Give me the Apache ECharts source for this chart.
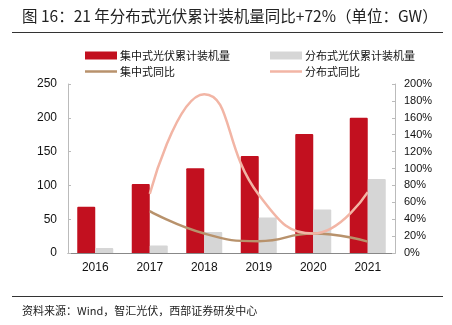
<!DOCTYPE html>
<html>
<head>
<meta charset="utf-8">
<script src="https://cdn.jsdelivr.net/npm/echarts@6/dist/echarts.min.js"></script>
<style>
html,body{margin:0;padding:0;background:#fff;}
#c{width:452px;height:325px;}
</style>
</head>
<body>
<div id="c"></div>
<script>
var years = ['2016','2017','2018','2019','2020','2021'];
var centralized = [68.5, 102, 125.5, 143.5, 176, 200];
var distributed = [7.5, 11, 31, 52.5, 64.5, 109.5];
var centralizedYoY = [null, 49.5, 23, 14, 23, 13.5];
var distributedYoY = [null, 70, 188, 69, 23, 72];
var leftTicks = [0, 50, 100, 150, 200, 250];
var rightTicks = [0, 20, 40, 60, 80, 100, 120, 140, 160, 180, 200];

var FONT = '"Liberation Sans", "Noto Sans CJK SC", sans-serif';
var CJK = '"Noto Sans CJK SC", sans-serif';
var chart = echarts.init(document.getElementById('c'), null, {renderer:'canvas'});
function lg(name, left, top, h) {
  return {left:left, top:top, itemWidth:32, itemHeight:h, icon:'rect',
    textStyle:{fontFamily:CJK, fontSize:11, color:'#111', padding:[0,0,0,-2]},
    data:[{name:name}]};
}
var option = {
  animation: false,
  backgroundColor: '#fff',
  graphic: [
    {type:'text', left:22, top:8, style:{text:'图 16：21 年分布式光伏累计装机量同比+72%（单位：GW）', font:'15.5px ' + CJK, fill:'#222'}},
    {type:'line', shape:{x1:12, y1:32.5, x2:443, y2:32.5}, style:{stroke:'#333', lineWidth:1}},
    {type:'line', shape:{x1:12, y1:296.5, x2:443, y2:296.5}, style:{stroke:'#333', lineWidth:1}},
    {type:'text', left:22, top:305, style:{text:'资料来源：Wind，智汇光伏，西部证券研发中心', font:'11px ' + CJK, fill:'#222'}}
  ],
  legend: [
    lg('集中式光伏累计装机量', 80, 45, 8),
    lg('分布式光伏累计装机量', 265, 45, 8),
    lg('集中式同比', 80, 61, 2.5),
    lg('分布式同比', 265, 61, 2.5)
  ],
  grid: {left:68, right:57, top:84, bottom:72},
  xAxis: {
    type:'category', data: years,
    axisLine:{lineStyle:{color:'#888', width:1}},
    axisTick:{inside:true, length:3, lineStyle:{color:'#888'}},
    axisLabel:{fontFamily:FONT, fontSize:12, color:'#111', margin:9}
  },
  yAxis: [
    {type:'value', min:leftTicks[0], max:leftTicks[leftTicks.length-1], interval:50,
     axisLine:{show:true, lineStyle:{color:'#bbb'}},
     axisTick:{show:true, inside:true, length:3, lineStyle:{color:'#bbb'}},
     splitLine:{show:false},
     axisLabel:{fontFamily:FONT, fontSize:12, color:'#111', margin:11}},
    {type:'value', min:rightTicks[0], max:rightTicks[rightTicks.length-1], interval:20,
     axisLine:{show:true, lineStyle:{color:'#bbb'}},
     axisTick:{show:true, inside:true, length:3, lineStyle:{color:'#bbb'}},
     splitLine:{show:false},
     axisLabel:{fontFamily:FONT, fontSize:11, color:'#111', margin:9, formatter:'{value}%'}}
  ],
  series: [
    {name:'集中式光伏累计装机量', type:'bar', data:centralized, barWidth:18, barGap:'0%',
     itemStyle:{color:'#C2101F', borderRadius:[1,1,0,0]}},
    {name:'分布式光伏累计装机量', type:'bar', data:distributed, barWidth:18, barGap:'0%',
     itemStyle:{color:'#D6D6D6', borderRadius:[1,1,0,0]}},
    {name:'集中式同比', type:'line', yAxisIndex:1, data:centralizedYoY, smooth:0.5, symbol:'none',
     lineStyle:{color:'#B8926C', width:2.5}, itemStyle:{color:'#B8926C'}},
    {name:'分布式同比', type:'line', yAxisIndex:1, data:distributedYoY, smooth:0.5, symbol:'none',
     lineStyle:{color:'#F2B5A5', width:2.5}, itemStyle:{color:'#F2B5A5'}}
  ]
};
chart.setOption(option);
</script>
</body>
</html>
